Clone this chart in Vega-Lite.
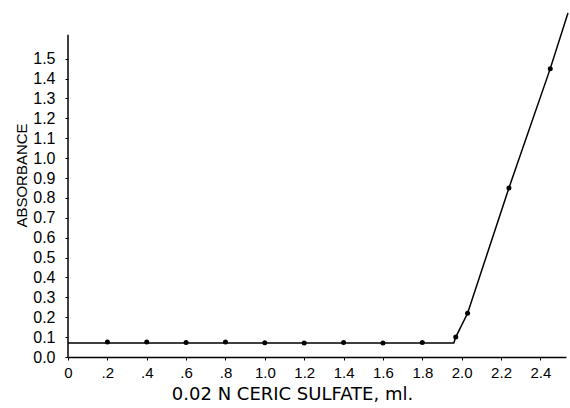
{
  "$schema": "https://vega.github.io/schema/vega-lite/v6.json",
  "autosize": "none",
  "width": 498,
  "height": 354,
  "padding": {"left": 68, "top": 3, "right": 4, "bottom": 51},
  "background": "white",
  "config": {
    "view": {"stroke": null},
    "font": "Liberation Sans",
    "axis": {"grid": false, "domainColor": "black", "tickColor": "black", "labelColor": "black", "titleColor": "black", "labelFont": "Liberation Sans", "titleFont": "Liberation Sans", "labelFontSize": 15, "titleFontSize": 15, "titleFontWeight": "normal", "labelOverlap": false}
  },
  "datasets": {
    "curve": [
      {"ml": 0, "abs": 0.07},
      {"ml": 1.96, "abs": 0.07},
      {"ml": 1.97, "abs": 0.1},
      {"ml": 2.03, "abs": 0.22},
      {"ml": 2.24, "abs": 0.85},
      {"ml": 2.45, "abs": 1.45},
      {"ml": 2.54, "abs": 1.73}
    ],
    "points": [
      {"ml": 0.2, "abs": 0.075},
      {"ml": 0.4, "abs": 0.075},
      {"ml": 0.6, "abs": 0.073},
      {"ml": 0.8, "abs": 0.075},
      {"ml": 1.0, "abs": 0.072},
      {"ml": 1.2, "abs": 0.071},
      {"ml": 1.4, "abs": 0.073},
      {"ml": 1.6, "abs": 0.07},
      {"ml": 1.8, "abs": 0.073},
      {"ml": 1.97, "abs": 0.1},
      {"ml": 2.03, "abs": 0.22},
      {"ml": 2.24, "abs": 0.85},
      {"ml": 2.45, "abs": 1.45}
    ],
    "yaxis": [
      {"ml": 0, "abs": 0, "abs_top": 1.62}
    ]
  },
  "encoding": {
    "x": {
      "field": "ml", "type": "quantitative",
      "scale": {"domain": [0, 2.53], "nice": false, "zero": false},
      "axis": {
        "values": [0, 0.2, 0.4, 0.6, 0.8, 1.0, 1.2, 1.4, 1.6, 1.8, 2.0, 2.2, 2.4],
        "labelExpr": "datum.value == 0 ? '0' : (datum.value < 1 ? replace(format(datum.value, '.1f'), '0.', '.') : format(datum.value, '.1f'))",
        "tickSize": 3,
        "labelPadding": 5,
        "labelFlush": false,
        "labelOverlap": false,
        "title": "0.02 N CERIC  SULFATE, ml.",
        "titleFont": "DejaVu Sans",
        "titleFontSize": 18,
        "titleX": 224,
        "titleY": 42,
        "titleBaseline": "alphabetic",
        "titleAnchor": "middle",
        "domainWidth": 1.5
      }
    },
    "y": {
      "field": "abs", "type": "quantitative",
      "scale": {"domain": [0, 1.78], "nice": false},
      "axis": {
        "values": [0, 0.1, 0.2, 0.3, 0.4, 0.5, 0.6, 0.7, 0.8, 0.9, 1.0, 1.1, 1.2, 1.3, 1.4, 1.5],
        "format": ".1f",
        "domain": false,
        "tickSize": 3,
        "labelPadding": 10,
        "labelFontSize": 16,
        "labelFlush": false,
        "labelOverlap": false,
        "labelBound": false,
        "title": "ABSORBANCE",
        "titleFontSize": 15,
        "titleX": -47,
        "titleY": 172,
        "titleAngle": -90,
        "titleBaseline": "middle",
        "titleAnchor": "middle"
      }
    }
  },
  "layer": [
    {
      "data": {"name": "curve"},
      "mark": {"type": "line", "color": "black", "strokeWidth": 1.5, "clip": false}
    },
    {
      "data": {"name": "points"},
      "mark": {"type": "point", "filled": true, "color": "black", "size": 25, "opacity": 1}
    },
    {
      "data": {"name": "yaxis"},
      "mark": {"type": "rule", "color": "black", "strokeWidth": 1.5},
      "encoding": {
        "y2": {"field": "abs_top"}
      }
    }
  ]
}
